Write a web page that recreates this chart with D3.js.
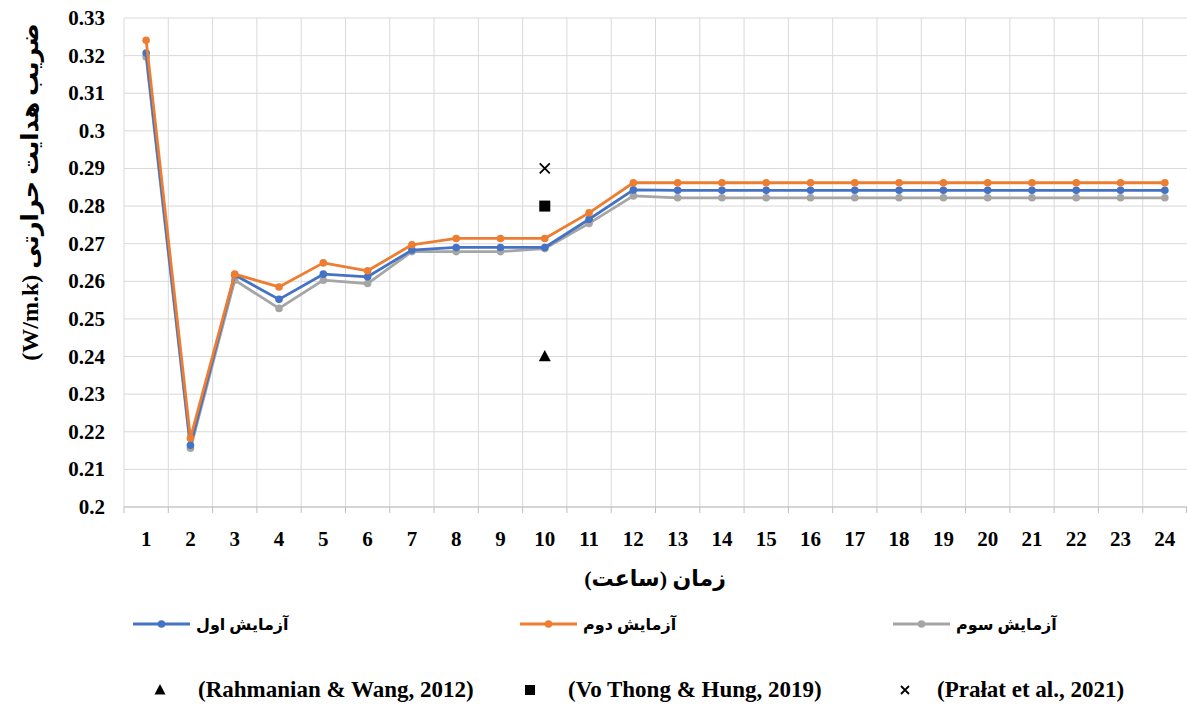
<!DOCTYPE html>
<html><head><meta charset="utf-8">
<script src="https://cdn.jsdelivr.net/npm/d3@7"></script>
<style>body{margin:0;background:#fff}svg{display:block}</style>
</head><body>
<svg id="chart" width="1187" height="708"></svg>
<script>
const hours = d3.range(1, 25);
const test1 = [0.3207,0.2164,0.2617,0.2552,0.2619,0.2612,0.2683,0.2690,0.2690,0.2690,0.2765,0.2843,0.2842,0.2842,0.2842,0.2842,0.2842,0.2842,0.2842,0.2842,0.2842,0.2842,0.2842,0.2842];
const test2 = [0.3241,0.2183,0.2619,0.2585,0.2649,0.2628,0.2697,0.2714,0.2714,0.2714,0.2782,0.2862,0.2862,0.2862,0.2862,0.2862,0.2862,0.2862,0.2862,0.2862,0.2862,0.2862,0.2862,0.2862];
const test3 = [0.3196,0.2156,0.2603,0.2528,0.2603,0.2594,0.2679,0.2679,0.2679,0.2687,0.2754,0.2827,0.2822,0.2822,0.2822,0.2822,0.2822,0.2822,0.2822,0.2822,0.2822,0.2822,0.2822,0.2822];
const seriesNames = ["آزمایش اول","آزمایش دوم","آزمایش سوم"];
const seriesColors = ["#4472C4","#ED7D31","#A5A5A5"];
const refNames = ["(Rahmanian & Wang, 2012)","(Vo Thong & Hung, 2019)","(Prałat et al., 2021)"];
const refValues = [0.24, 0.28, 0.29];
const refHour = 10;
const refSymbols = ["triangle","square","cross"];
const yTicks = [0.2,0.21,0.22,0.23,0.24,0.25,0.26,0.27,0.28,0.29,0.3,0.31,0.32,0.33];

const svg = d3.select("#chart");
const L = 124, R = 1187, T = 18, B = 507;
const x = d3.scaleBand().domain(hours).range([L, R]);
const y = d3.scaleLinear().domain([0.2, 0.33]).range([B, T]);
const serif = "'Liberation Serif','Times New Roman','DejaVu Serif',serif";
const fa = "'Liberation Serif','DejaVu Sans','Noto Sans',serif";

// gridlines
const g = svg.append("g");
g.selectAll(".hg").data(yTicks).join("line")
  .attr("x1", L).attr("x2", R).attr("y1", d=>y(d)).attr("y2", d=>y(d))
  .attr("stroke", "#d9d9d9").attr("stroke-width", 1);
g.selectAll(".vg").data(hours.slice(1)).join("line")
  .attr("x1", d=>x(d)).attr("x2", d=>x(d)).attr("y1", T).attr("y2", B)
  .attr("stroke", "#d9d9d9").attr("stroke-width", 1);
g.append("line").attr("x1", L).attr("x2", L).attr("y1", T).attr("y2", B).attr("stroke", "#d9d9d9");
// bottom axis
g.append("line").attr("x1", L).attr("x2", R).attr("y1", B).attr("y2", B).attr("stroke", "#bfbfbf");
g.selectAll(".xt").data(hours.concat([25])).join("line")
  .attr("x1", d=> d===25 ? R-0.5 : x(d)).attr("x2", d=> d===25 ? R-0.5 : x(d))
  .attr("y1", B).attr("y2", B+6).attr("stroke", "#bfbfbf");

// y tick labels
svg.append("g").selectAll("text").data(yTicks).join("text")
  .attr("x", 105).attr("y", d=>y(d)+7).attr("text-anchor","end")
  .attr("font-family", serif).attr("font-weight","bold").attr("font-size", 21).attr("fill","#000")
  .text(d=>d3.format("")(+d.toFixed(2)));
// x tick labels
svg.append("g").selectAll("text").data(hours).join("text")
  .attr("x", d=>x(d)+x.bandwidth()/2).attr("y", 546).attr("text-anchor","middle")
  .attr("font-family", serif).attr("font-weight","bold").attr("font-size", 21).attr("fill","#000")
  .text(d=>d);

// axis titles
svg.append("text").attr("x", 655).attr("y", 586).attr("text-anchor","middle")
  .attr("font-family", fa).attr("font-weight","bold").attr("font-size", 22).attr("fill","#000")
  .text("زمان (ساعت)");
svg.append("text").attr("transform","translate(38,192) rotate(-90)").attr("text-anchor","middle")
  .attr("font-family", fa).attr("font-weight","bold").attr("font-size", 24).attr("fill","#000")
  .text("(W/m.k) ضریب هدایت حرارتی");

// series
const allSeries = [test1, test2, test3];
const line = d3.line().x((d,i)=>x(hours[i])+x.bandwidth()/2).y(d=>y(d));
[2,0,1].forEach(si=>{
  const s = allSeries[si];
  svg.append("path").attr("d", line(s)).attr("fill","none")
    .attr("stroke", seriesColors[si]).attr("stroke-width", 2.8).attr("stroke-linejoin","round");
  svg.append("g").selectAll("circle").data(s).join("circle")
    .attr("cx", (d,i)=>x(hours[i])+x.bandwidth()/2).attr("cy", d=>y(d)).attr("r", 3.8)
    .attr("fill", seriesColors[si]);
});

// reference points
const cx10 = x(refHour)+x.bandwidth()/2;
function sym(sel, type, size){
  if(type==="cross"){
    const s = size;
    sel.append("path").attr("d", `M${-s},${-s}L${s},${s}M${-s},${s}L${s},${-s}`)
      .attr("stroke","#000").attr("stroke-width",1.8).attr("fill","none");
  } else if(type==="square"){
    sel.append("rect").attr("x",-size).attr("y",-size).attr("width",2*size).attr("height",2*size).attr("fill","#000");
  } else {
    sel.append("path").attr("d", `M0,${-size*1.1}L${size},${size*0.8}L${-size},${size*0.8}Z`).attr("fill","#000");
  }
}
refValues.forEach((v,i)=>{
  const gg = svg.append("g").attr("transform",`translate(${cx10},${y(v)})`);
  sym(gg, refSymbols[i], refSymbols[i]==="cross"?5:(refSymbols[i]==="square"?5.5:6));
});

// legend row 1
const leg1X = [133, 520, 893];
seriesNames.forEach((n,i)=>{
  const lg = svg.append("g").attr("transform",`translate(${leg1X[i]},624)`);
  lg.append("line").attr("x1",0).attr("x2",57).attr("y1",0).attr("y2",0).attr("stroke",seriesColors[i]).attr("stroke-width",2.8);
  lg.append("circle").attr("cx",28.5).attr("cy",0).attr("r",3.8).attr("fill",seriesColors[i]);
  lg.append("text").attr("x",63).attr("y",6).attr("font-family",fa).attr("font-weight","bold").attr("font-size",16)
    .attr("fill","#000").text(n);
});
// legend row 2
const leg2X = [160, 530, 905];
refNames.forEach((n,i)=>{
  const lg = svg.append("g").attr("transform",`translate(${leg2X[i]},690)`);
  sym(lg, refSymbols[i], refSymbols[i]==="cross"?4:(refSymbols[i]==="square"?5:5.5));
  lg.append("text").attr("x", i===2?32:38).attr("y",7).attr("font-family",serif).attr("font-weight","bold").attr("font-size",23)
    .attr("fill","#000").text(n);
});
</script>
</body></html>
